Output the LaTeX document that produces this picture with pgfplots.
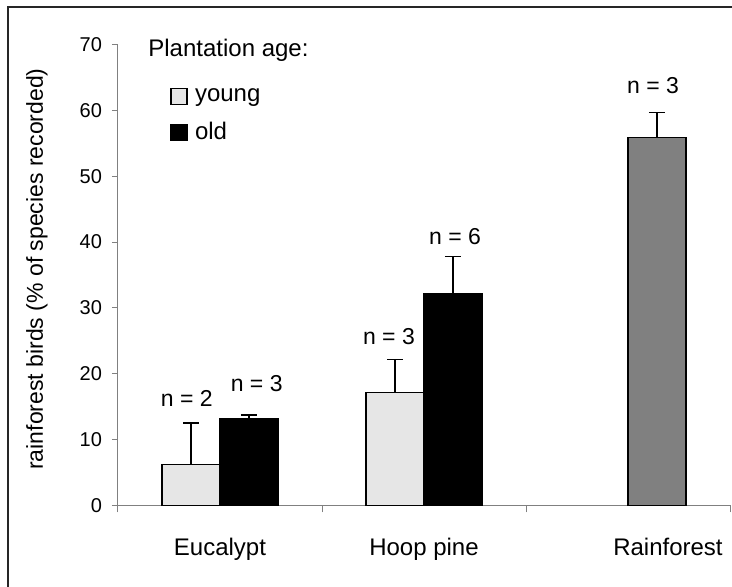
\documentclass[border=0pt]{standalone}
\usepackage{fontspec}
\setmainfont{Liberation Sans}
\usepackage{pgfplots}
\pgfplotsset{compat=1.18}
\definecolor{axgray}{RGB}{128,128,128}
\definecolor{younggray}{RGB}{230,230,230}
\definecolor{rfgray}{RGB}{128,128,128}
\pgfplotsset{sqlegend/.style={legend image code/.code={\draw[##1, line width=0.6pt] (0pt,-4pt) rectangle (8pt,4pt); \path[draw=none, fill=none] (0pt,0pt) -- (10.5pt,0pt);}}}
\begin{document}
\begin{tikzpicture}
\path[use as bounding box] (-59pt,-40.3pt) rectangle (307pt,252.7pt);
\draw[line width=1pt, black!85] (-55pt,-42pt) -- (-55pt,249.2pt) -- (309pt,249.2pt);
\begin{axis}[
  at={(0pt,0pt)}, anchor=south west,
  scale only axis, width=306pt, height=230.4pt,
  xmin=0.5, xmax=3.5, ymin=0, ymax=70,
  axis x line*=bottom, axis y line*=left,
  axis line style={axgray, line width=0.5pt, -},
  clip=false,
  tick align=outside,
  ytick={0,10,...,70},
  major tick length=3pt,
  ytick style={axgray, line width=0.5pt},
  xtick={1,2,3.196},
  xticklabels={Eucalypt, Hoop pine, Rainforest},
  xtick style={draw=none},
  minor xtick={0.5,1.5,2.5,3.5},
  minor tick length=3.5pt,
  minor x tick style={axgray, line width=0.5pt, draw=axgray},
  xticklabel style={anchor=base, yshift=-22pt, font=\fontsize{12}{14}\selectfont},
  yticklabel style={font=\fontsize{10}{12}\selectfont, xshift=-1.5pt},
  /pgf/number format/assume math mode=true,
  ylabel={rainforest birds (\% of species recorded)},
  ylabel style={at={(axis description cs:-0.1324,0.513)}, anchor=center, font=\fontsize{11.5}{13}\selectfont},
  legend style={at={(axis cs:0.755,63.9)}, anchor=north west, draw=none, fill=none,
    inner sep=0pt, font=\fontsize{12}{14}\selectfont, row sep=6pt,
    nodes={inner sep=1.5pt}},
  legend cell align=left,
  error bars/error bar style={line width=0.7pt, black},
  error bars/error mark options={rotate=90, mark size=4pt, line width=0.7pt, black},
]
\addplot[ybar, bar width=0.284, bar shift=0pt, fill=younggray, draw=black, line width=0.7pt,
  sqlegend, error bars/.cd, y dir=plus, y explicit]
  coordinates {(0.858,6.2) +- (0,6.3) (1.858,17.15) +- (0,5.05)};
\addlegendentry{young}
\addplot[ybar, bar width=0.284, bar shift=0pt, fill=black, draw=black, line width=0.7pt,
  sqlegend, error bars/.cd, y dir=plus, y explicit]
  coordinates {(1.142,13.15) +- (0,0.6) (2.142,32.2) +- (0,5.6)};
\addlegendentry{old}
\addplot[ybar, bar width=0.284, bar shift=0pt, fill=rfgray, draw=black, line width=0.7pt, forget plot,
  error bars/.cd, y dir=plus, y explicit]
  coordinates {(3.142,55.9) +- (0,3.8)};
\node[anchor=base west, font=\fontsize{12}{14}\selectfont, inner sep=0pt] at (axis cs:0.647,68.2) {Plantation age:};
\node[anchor=base, font=\fontsize{11.5}{13}\selectfont, inner sep=0pt] at (axis cs:0.837,15.0) {n = 2};
\node[anchor=base, font=\fontsize{11.5}{13}\selectfont, inner sep=0pt] at (axis cs:1.18,17.3) {n = 3};
\node[anchor=base, font=\fontsize{11.5}{13}\selectfont, inner sep=0pt] at (axis cs:1.828,24.4) {n = 3};
\node[anchor=base, font=\fontsize{11.5}{13}\selectfont, inner sep=0pt] at (axis cs:2.152,39.6) {n = 6};
\node[anchor=base, font=\fontsize{11.5}{13}\selectfont, inner sep=0pt] at (axis cs:3.123,62.5) {n = 3};
\end{axis}
\end{tikzpicture}
\end{document}
